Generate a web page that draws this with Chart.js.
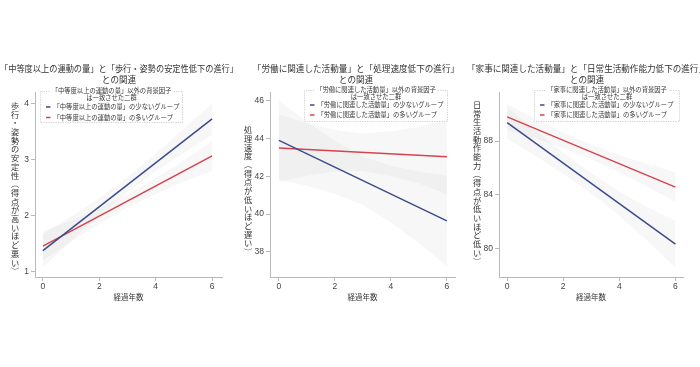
<!DOCTYPE html>
<html><head><meta charset="utf-8">
<script src="https://cdn.jsdelivr.net/npm/chart.js@4.4.0/dist/chart.umd.min.js"></script>
<style>
html,body{margin:0;padding:0;background:#fff;overflow:hidden;width:700px;height:367px;position:relative;}
.panel{position:absolute;top:0;height:367px;}
canvas{display:block;}
</style></head><body>
<div class="panel" style="left:0px;width:238px"><canvas id="c1" width="238" height="367"></canvas></div>
<div class="panel" style="left:236px;width:240px"><canvas id="c2" width="240" height="367"></canvas></div>
<div class="panel" style="left:467px;width:240px"><canvas id="c3" width="240" height="367"></canvas></div>
<script>
// ---------- shared ----------
const bandYears = [0, 1, 2, 3, 4, 5, 6];
const lineYears = [0, 6];
const xTicks = [0, 2, 4, 6];
const xTitle = "経過年数";

// ---------- panel 1 ----------
const p1Title = ["「中等度以上の運動の量」と「歩行・姿勢の安定性低下の進行」", "との関連"];
const p1YTitle = "歩行・姿勢の安定性（得点が高いほど悪い）";
const p1LegendTitle = ["「中等度以上の運動の量」以外の背景因子", "は一致させた二群"];
const p1Labels = ["「中等度以上の運動の量」の少ないグループ", "「中等度以上の運動の量」の多いグループ"];
const p1YTicks = [1, 2, 3, 4];
const p1LessLine = [1.38, 3.73];
const p1MoreLine = [1.46, 3.07];
const p1LessLower = [1.08, 1.55, 2.00, 2.42, 2.79, 3.12, 3.45];
const p1LessUpper = [1.68, 1.99, 2.32, 2.69, 3.11, 3.56, 4.01];
const p1MoreLower = [1.20, 1.54, 1.86, 2.15, 2.39, 2.61, 2.81];
const p1MoreUpper = [1.72, 1.92, 2.14, 2.39, 2.67, 2.99, 3.33];

// ---------- panel 2 ----------
const p2Title = ["「労働に関連した活動量」と「処理速度低下の進行」", "との関連"];
const p2YTitle = "処理速度（得点が低いほど遅い）";
const p2LegendTitle = ["「労働に関連した活動量」以外の背景因子", "は一致させた二群"];
const p2Labels = ["「労働に関連した活動量」の少ないグループ", "「労働に関連した活動量」の多いグループ"];
const p2YTicks = [38, 40, 42, 44, 46];
const p2LessLine = [43.9, 39.64];
const p2MoreLine = [43.5, 43.04];
const p2LessLower = [41.8, 41.49, 41.08, 40.47, 39.56, 38.45, 37.24];
const p2LessUpper = [46.0, 44.89, 43.88, 43.07, 42.56, 42.25, 42.04];
const p2MoreLower = [41.7, 42.02, 42.25, 42.27, 41.99, 41.62, 41.04];
const p2MoreUpper = [45.3, 44.82, 44.45, 44.27, 44.39, 44.62, 45.04];

// ---------- panel 3 ----------
const p3Title = ["「家事に関連した活動量」と「日常生活動作能力低下の進行」", "との関連"];
const p3YTitle = "日常生活動作能力（得点が低いほど低い）";
const p3LegendTitle = ["「家事に関連した活動量」以外の背景因子", "は一致させた二群"];
const p3Labels = ["「家事に関連した活動量」の少ないグループ", "「家事に関連した活動量」の多いグループ"];
const p3YTicks = [80, 84, 88];
const p3LessLine = [89.37, 80.32];
const p3MoreLine = [89.8, 84.57];
const p3LessLower = [88.17, 86.91, 85.55, 84.10, 82.44, 80.58, 78.57];
const p3LessUpper = [90.57, 88.81, 87.15, 85.60, 84.24, 83.08, 82.07];
const p3MoreLower = [88.85, 88.18, 87.46, 86.63, 85.66, 84.59, 83.47];
const p3MoreUpper = [90.75, 89.68, 88.66, 87.73, 86.96, 86.29, 85.67];

// ---------- styling ----------
const BLUE = '#3c4b8a';
const RED = '#d4434f';
const BAND = 'rgba(0,0,0,0.032)';
const AXIS = '#b8b8b8';
const TEXT = '#333';
const CJK = "'Noto Sans CJK JP', 'Noto Sans', sans-serif";
const NUM = "'Liberation Sans', 'DejaVu Sans', sans-serif";

const pts = (xs, ys) => xs.map((x, i) => ({x: x, y: ys[i]}));

// vertical y-axis title plugin
const vLabelPlugin = {
  id: 'vlabel',
  afterDraw(chart, args, o) {
    const ctx = chart.ctx;
    const chars = Array.from(o.text);
    const n = chars.length;
    ctx.save();
    ctx.font = o.size + 'px ' + CJK;
    ctx.fillStyle = TEXT;
    ctx.textAlign = 'center';
    ctx.textBaseline = 'middle';
    chars.forEach((c, i) => {
      const y = o.cy + (i - (n - 1) / 2) * o.pitch;
      if (c === '（' || c === '）') {
        ctx.save();
        ctx.translate(o.x, y);
        ctx.rotate(Math.PI / 2);
        ctx.fillText(c, 0, 0);
        ctx.restore();
      } else {
        ctx.fillText(c, o.x, y);
      }
    });
    ctx.restore();
  }
};

// boxed legend plugin
const boxLegendPlugin = {
  id: 'boxlegend',
  afterDraw(chart, args, o) {
    const ctx = chart.ctx;
    const {l, r, t, b} = o.box;
    ctx.save();
    ctx.fillStyle = 'rgba(255,255,255,0.85)';
    ctx.fillRect(l, t, r - l, b - t);
    ctx.font = o.size + 'px ' + CJK;
    ctx.fillStyle = TEXT;
    ctx.textAlign = 'center';
    ctx.textBaseline = 'middle';
    const cx = (l + r) / 2;
    o.title.forEach((line, i) => ctx.fillText(line, cx, t + i * o.titleGap));
    const tw = ctx.measureText(o.title[0]).width;
    ctx.strokeStyle = '#c4c4c4';
    ctx.lineWidth = 0.8;
    ctx.setLineDash([1.2, 1.2]);
    ctx.beginPath();
    ctx.moveTo(cx - tw / 2 - 2, t + 0.5);
    ctx.lineTo(l + 0.5, t + 0.5);
    ctx.lineTo(l + 0.5, b - 0.5);
    ctx.lineTo(r - 0.5, b - 0.5);
    ctx.lineTo(r - 0.5, t + 0.5);
    ctx.lineTo(cx + tw / 2 + 2, t + 0.5);
    ctx.stroke();
    ctx.setLineDash([]);
    ctx.textAlign = 'left';
    const lineSets = chart.data.datasets.filter(d => d.isMain);
    lineSets.forEach((d, i) => {
      const y = o.entryY[i];
      ctx.strokeStyle = d.borderColor;
      ctx.lineWidth = 1.5;
      ctx.beginPath();
      ctx.moveTo(l + 6, y);
      ctx.lineTo(l + 10.5, y);
      ctx.stroke();
      ctx.fillStyle = TEXT;
      ctx.fillText(d.label, l + 13.5, y);
    });
    ctx.restore();
  }
};

function makePanel(id, d, lay) {
  const datasets = [
    {label: d.labels[0], isMain: true, data: pts(lineYears, d.less), borderColor: BLUE, borderWidth: 1.5, pointRadius: 0, fill: false, order: 0},
    {label: d.labels[1], isMain: true, data: pts(lineYears, d.more), borderColor: RED, borderWidth: 1.5, pointRadius: 0, fill: false, order: 0},
    {label: 'lessLower', data: pts(bandYears, d.lessLo), borderWidth: 0, borderColor: 'rgba(0,0,0,0)', pointRadius: 0, fill: false, order: 1},
    {label: 'lessUpper', data: pts(bandYears, d.lessHi), borderWidth: 0, borderColor: 'rgba(0,0,0,0)', backgroundColor: BAND, pointRadius: 0, fill: 2, order: 1},
    {label: 'moreLower', data: pts(bandYears, d.moreLo), borderWidth: 0, borderColor: 'rgba(0,0,0,0)', pointRadius: 0, fill: false, order: 1},
    {label: 'moreUpper', data: pts(bandYears, d.moreHi), borderWidth: 0, borderColor: 'rgba(0,0,0,0)', backgroundColor: BAND, pointRadius: 0, fill: 4, order: 1}
  ];
  return new Chart(document.getElementById(id), {
    type: 'line',
    data: {datasets},
    plugins: [vLabelPlugin, boxLegendPlugin],
    options: {
      responsive: false,
      animation: false,
      devicePixelRatio: 1,
      layout: {padding: {left: 0, right: 0, top: 0, bottom: 60}},
      plugins: {
        legend: {display: false},
        tooltip: {enabled: false},
        title: {
          display: true, text: d.title, color: TEXT,
          font: {family: CJK, size: 8.6, weight: 'normal', lineHeight: 1.28},
          padding: {top: 63.5, bottom: 6.5}
        },
        vlabel: {text: d.yTitle, x: lay.vx, cy: lay.vcy, pitch: 8.7, size: 8.2},
        boxlegend: {box: lay.box, title: d.legendTitle, labels: d.labels, size: 6.3, titleGap: 6.6, entryY: lay.entryY}
      },
      scales: {
        x: {
          type: 'linear', min: lay.xMin, max: lay.xMax,
          afterBuildTicks: s => { s.ticks = xTicks.map(v => ({value: v})); },
          afterFit: s => { s.height = 30; },
          ticks: {color: '#444', font: {family: NUM, size: 8.5}, padding: 1, maxRotation: 0},
          grid: {drawOnChartArea: false, drawTicks: true, tickLength: 4, color: AXIS},
          border: {display: true, color: AXIS, width: 1},
          title: {display: true, text: xTitle, color: TEXT, font: {family: CJK, size: 7.5}, padding: {top: 0, bottom: 5}}
        },
        y: {
          type: 'linear', min: lay.yMin, max: lay.yMax,
          afterBuildTicks: s => { s.ticks = d.yTicks.map(v => ({value: v})); },
          afterFit: s => { s.width = lay.yw; },
          ticks: {color: '#444', font: {family: NUM, size: 8.5}, padding: 2},
          grid: {drawOnChartArea: false, drawTicks: true, tickLength: 4, color: AXIS},
          border: {display: true, color: AXIS, width: 1}
        },
        // empty right-hand spacer keeps the plot narrower than the title
        spacer: {
          type: 'linear', position: 'right', display: true,
          ticks: {display: false},
          grid: {display: false, drawTicks: false},
          border: {display: false},
          afterFit: s => { s.width = lay.rightGap; }
        }
      }
    }
  });
}

makePanel('c1', {
  title: p1Title, yTitle: p1YTitle, legendTitle: p1LegendTitle, labels: p1Labels, yTicks: p1YTicks,
  less: p1LessLine, more: p1MoreLine, lessLo: p1LessLower, lessHi: p1LessUpper, moreLo: p1MoreLower, moreHi: p1MoreUpper
}, {rightGap: 16, yw: 35, xMin: -0.28, xMax: 6.35, yMin: 0.91, yMax: 4.21,
    vx: 15, vcy: 188.5, box: {l: 40, r: 183, t: 91, b: 123}, entryY: [107, 117.5]});

makePanel('c2', {
  title: p2Title, yTitle: p2YTitle, legendTitle: p2LegendTitle, labels: p2Labels, yTicks: p2YTicks,
  less: p2LessLine, more: p2MoreLine, lessLo: p2LessLower, lessHi: p2LessUpper, moreLo: p2MoreLower, moreHi: p2MoreUpper
}, {rightGap: 21, yw: 34, xMin: -0.32, xMax: 6.29, yMin: 36.67, yMax: 46.46,
    vx: 12, vcy: 191, box: {l: 68, r: 212, t: 90, b: 122}, entryY: [105, 115]});

makePanel('c3', {
  title: p3Title, yTitle: p3YTitle, legendTitle: p3LegendTitle, labels: p3Labels, yTicks: p3YTicks,
  less: p3LessLine, more: p3MoreLine, lessLo: p3LessLower, lessHi: p3LessUpper, moreLo: p3MoreLower, moreHi: p3MoreUpper
}, {rightGap: 24, yw: 32, xMin: -0.29, xMax: 6.27, yMin: 77.88, yMax: 91.65,
    vx: 10, vcy: 183, box: {l: 67, r: 213, t: 90, b: 122}, entryY: [105, 115]});
</script>
</body></html>
